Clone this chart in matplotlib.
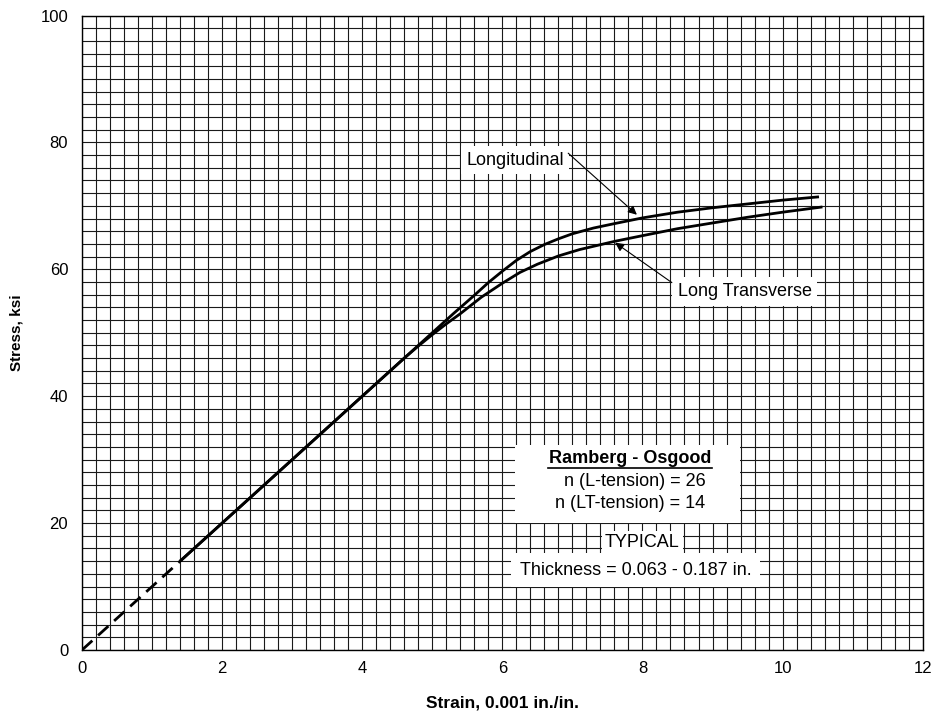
import matplotlib.pyplot as plt
from matplotlib.patches import Rectangle
import numpy as np

plt.rcParams['font.family'] = ['Liberation Sans', 'DejaVu Sans']

# elastic start (dashed)
dash_x = [0, 1.42]
dash_y = [0, 14.2]

# Longitudinal curve
long_x = [1.42, 2, 3, 4, 5.0, 5.3, 5.6, 5.8, 6.0, 6.2, 6.4, 6.6, 6.8, 7.0, 7.3, 7.6,
          8.0, 8.5, 9.0, 9.5, 10.0, 10.5]
long_y = [14.2, 20, 30, 40, 50.0, 53.0, 55.9, 57.9, 59.7, 61.4, 62.8, 63.9, 64.8, 65.6,
          66.5, 67.2, 68.1, 69.0, 69.7, 70.3, 70.9, 71.4]

# Long Transverse curve
lt_x = [1.42, 2, 3, 4, 4.6, 4.8, 5.0, 5.2, 5.4, 5.7, 6.0, 6.25, 6.5, 6.8, 7.1, 7.6,
        8.0, 8.5, 9.0, 9.5, 10.0, 10.55]
lt_y = [14.2, 20, 30, 40, 46.0, 47.9, 49.7, 51.4, 53.0, 55.6, 57.8, 59.5, 60.8, 62.1,
        63.1, 64.4, 65.3, 66.4, 67.3, 68.2, 69.0, 69.8]

fig = plt.figure(figsize=(9.32, 7.21), dpi=100)
ax = fig.add_axes([0.088, 0.0985, 0.902, 0.880])

ax.set_xlim(0, 12)
ax.set_ylim(0, 100)
ax.set_xticks(np.arange(0, 13, 2))
ax.set_yticks(np.arange(0, 101, 20))
ax.set_xticks(np.arange(0, 12.01, 0.2), minor=True)
ax.set_yticks(np.arange(0, 100.1, 2), minor=True)
ax.grid(which='both', color='#1a1a1a', linewidth=0.8)
ax.tick_params(which='both', length=0, labelsize=12)
ax.tick_params(axis='x', pad=8)
ax.tick_params(axis='y', pad=10)
for s in ax.spines.values():
    s.set_linewidth(1.0)
    s.set_color('black')

ax.plot(dash_x, dash_y, color='black', linewidth=2, linestyle=(0, (5, 2.8)), zorder=3)
ax.plot(long_x, long_y, color='black', linewidth=2, zorder=3)
ax.plot(lt_x, lt_y, color='black', linewidth=2, zorder=3)

ax.set_xlabel('Strain, 0.001 in./in.', fontsize=12.5, fontweight='bold', labelpad=14)
ax.set_ylabel('Stress, ksi', fontsize=11, fontweight='bold')
ax.yaxis.set_label_coords(-0.07, 0.5)

arrow = dict(arrowstyle='-|>', color='black', lw=0.8, shrinkA=0, shrinkB=0,
             mutation_scale=13)
ax.text(6.18, 77.2, 'Longitudinal', fontsize=13, ha='center', va='center', zorder=4,
        bbox=dict(facecolor='white', edgecolor='none', pad=4))
ax.annotate('', xy=(7.92, 68.6), xytext=(6.94, 78.3), arrowprops=arrow, zorder=4)
ax.text(9.46, 56.5, 'Long Transverse', fontsize=13, ha='center', va='center', zorder=4,
        bbox=dict(facecolor='white', edgecolor='none', pad=4))
ax.annotate('', xy=(7.61, 64.2), xytext=(8.42, 57.9), arrowprops=arrow, zorder=4)

# note block
ax.add_patch(Rectangle((6.18, 20.0), 3.21, 12.3, facecolor='white', edgecolor='none',
                       zorder=2.5))
cx = 7.82
ax.text(cx, 30.2, 'Ramberg - Osgood', fontsize=13, fontweight='bold', ha='center',
        va='center', zorder=4)
ax.plot([cx - 1.17, cx + 1.17], [28.7, 28.7], color='black', linewidth=1.2, zorder=4)
ax.text(cx + 0.07, 26.5, 'n (L-tension) = 26', fontsize=13, ha='center', va='center',
        zorder=4)
ax.text(cx, 23.1, 'n (LT-tension) = 14', fontsize=13, ha='center', va='center', zorder=4)
ax.text(8.0, 17.0, 'TYPICAL', fontsize=13, ha='center', va='center', zorder=4,
        bbox=dict(facecolor='white', edgecolor='none', pad=2))
ax.text(7.9, 12.6, 'Thickness = 0.063 - 0.187 in.', fontsize=13, ha='center',
        va='center', zorder=4, bbox=dict(facecolor='white', edgecolor='none', pad=6))

fig.savefig('out.png', dpi=100)
